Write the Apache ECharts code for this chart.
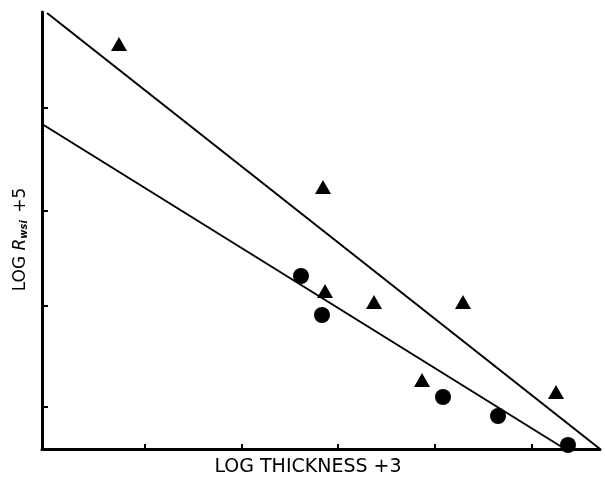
<!DOCTYPE html>
<html>
<head>
<meta charset="utf-8">
<script src="https://cdn.jsdelivr.net/npm/echarts@6/dist/echarts.min.js"></script>
<style>
  html, body { margin: 0; padding: 0; background: #fff; }
  #chart { width: 605px; height: 478px; }
</style>
</head>
<body>
<div id="chart"></div>
<script>
// data (axis units: 1 = one tick step roughly)
const triangles = [
  [0.77, 4.05], [2.81, 2.62], [2.83, 1.58], [3.32, 1.47],
  [4.21, 1.47], [3.80, 0.69], [5.14, 0.57],
];
const circles = [
  [2.59, 1.73], [2.80, 1.34], [4.01, 0.52], [4.56, 0.33], [5.26, 0.04],
];
const upperFit = [[0.05, 4.36], [5.58, 0.0]];
const lowerFit = [[0.0, 3.25], [5.23, 0.0]];
const xTicks = [1.03, 2.0, 2.96, 3.93, 4.9];
const yTicks = [0.42, 1.43, 2.38, 3.41];

const chart = echarts.init(document.getElementById('chart'));

const axisBase = {
  type: 'value',
  splitLine: { show: false },
  axisLine: { show: true, lineStyle: { color: '#000', width: 3 } },
  axisLabel: { show: false },
};

chart.setOption({
  animation: false,
  grid: { left: 42, right: 5, top: 12, bottom: 29, outerBoundsMode: 'none', containLabel: false },
  xAxis: {
    ...axisBase,
    min: 0,
    max: 5.58,
    axisTick: { show: true, inside: true, length: 5, customValues: xTicks, lineStyle: { color: '#000', width: 2 } },
    name: 'LOG THICKNESS +3',
    nameLocation: 'middle',
    nameGap: 9,
    nameTextStyle: { color: '#000', fontSize: 19, fontFamily: 'DejaVu Sans', verticalAlign: 'top', padding: [0, 26, 0, 0] },
  },
  yAxis: {
    ...axisBase,
    min: 0,
    max: 4.37,
    axisTick: { show: true, inside: true, length: 6, customValues: yTicks, lineStyle: { color: '#000', width: 2 } },
    name: 'LOG {i|R}{s|wsi} +5',
    nameLocation: 'middle',
    nameGap: 13,
    nameTextStyle: {
      color: '#000', fontSize: 17, fontFamily: 'DejaVu Sans', padding: [0, 18, 0, 0],
      rich: {
        i: { fontSize: 17, fontStyle: 'italic', fontFamily: 'DejaVu Sans', color: '#000' },
        s: { fontSize: 10, fontStyle: 'italic', fontWeight: 'bold', fontFamily: 'DejaVu Sans', color: '#000', verticalAlign: 'bottom', padding: [6, 2, 0, 0] },
      },
    },
  },
  series: [
    {
      type: 'line', data: upperFit, showSymbol: false, silent: true,
      lineStyle: { color: '#000', width: 2 },
    },
    {
      type: 'line', data: lowerFit, showSymbol: false, silent: true,
      lineStyle: { color: '#000', width: 2 },
    },
    {
      type: 'scatter', data: triangles, symbol: 'triangle', symbolSize: [16, 14],
      itemStyle: { color: '#000', opacity: 1 },
    },
    {
      type: 'scatter', data: circles, symbol: 'circle', symbolSize: 16,
      itemStyle: { color: '#000', opacity: 1 },
    },
  ],
});
</script>
</body>
</html>
